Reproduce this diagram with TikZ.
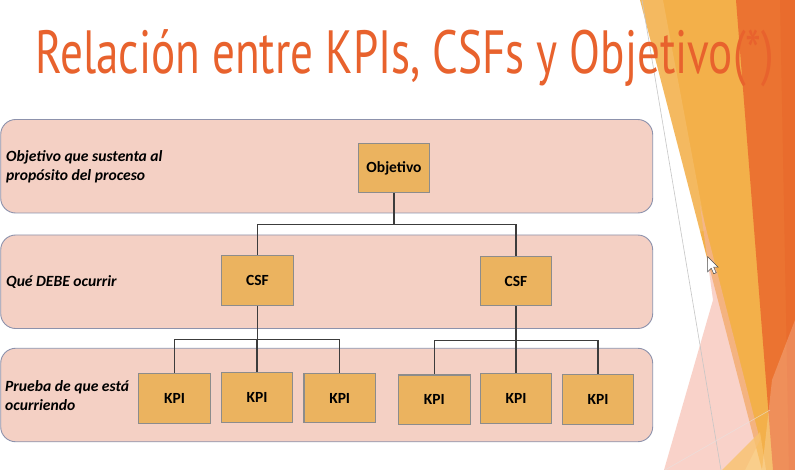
\documentclass[tikz,border=0pt]{standalone}
\usepackage{fontspec}
\setmainfont{Carlito}
\newfontfamily\titlefont{PT Sans}
\usepackage{graphicx}
\definecolor{titlecol}{HTML}{E8622D}
\definecolor{bandfill}{HTML}{F4D0C4}
\definecolor{bandline}{HTML}{8D92AC}
\definecolor{boxfill}{HTML}{EBB35F}
\definecolor{boxline}{HTML}{8C8C8C}
\definecolor{connline}{HTML}{3C3C3C}
\definecolor{decoyellow}{HTML}{F3B04A}
\definecolor{decoorange}{HTML}{EB7331}
\definecolor{decodark}{HTML}{E8682B}
\definecolor{decopink}{HTML}{F5B5A5}
\definecolor{decolight}{HTML}{F8C26E}
\begin{document}
\begin{tikzpicture}[x=1pt,y=-1pt,
  band/.style={draw=bandline, fill=bandfill, line width=0.9pt, rounded corners=15pt,
    minimum width=652pt, minimum height=93.5pt, inner sep=0pt},
  box/.style={draw=boxline, fill=boxfill, line width=1.1pt, minimum width=71.5pt,
    minimum height=49.5pt, inner sep=0pt, font=\fontsize{15.5}{18}\selectfont\bfseries},
  lbl/.style={font=\fontsize{15.6}{18.8}\selectfont\bfseries\itshape, align=left,
    inner sep=0pt, anchor=base west},
  conn/.style={draw=connline, line width=1.1pt},
]
\useasboundingbox (0,0) rectangle (795,470);
\fill[white] (0,0) rectangle (795,470);
% right-hand decoration
\fill[decoyellow] (640,0) -- (795,0) -- (795,470) -- (762,470) -- cycle;
\fill[white, opacity=0.12] (640,0) -- (663,0) -- (706,230) -- (700,232) -- cycle;
\fill[decopink, opacity=0.6] (700,205) -- (713,300) -- (664,470) -- (745,470) -- (760,440) -- cycle;
\fill[decolight, opacity=0.8] (722,470) -- (760,432) -- (766,470) -- cycle;
\fill[decoorange] (736,0) -- (795,0) -- (795,470) -- (773,470) -- cycle;
\fill[decodark, opacity=0.6] (780,0) -- (795,0) -- (795,470) -- (789,470) -- cycle;
\fill[white, opacity=0.2] (795,320) -- (795,470) -- (762,470) -- (772,380) -- cycle;
\draw[gray!45, line width=0.6pt] (642,0) -- (721,470);
\draw[white!80!gray, line width=0.5pt, opacity=0.7] (665,470) -- (770,410);
% cursor
\filldraw[fill=white, draw=black!70, line width=0.5pt]
  (707.7,256.7) -- ++(0,15) -- ++(3.5,-3.5) -- ++(2.5,5.5) -- ++(2.5,-1)
  -- ++(-2.5,-5.5) -- ++(4.5,0) -- cycle;
% title
\node[anchor=base west, inner sep=0pt, text=titlecol] (title) at (35.5,73.6)
  {\resizebox{738.5pt}{\height}{\titlefont\fontsize{61}{61}\selectfont Relación entre KPIs, CSFs y Objetivo(*)}};
% bands
\node[band] (band1) at (326.7,166.25) {};
\node[band] (band2) at (326.7,281.75) {};
\node[band] (band3) at (326.7,395) {};
% labels (base = baseline of the last line)
\node[lbl] (l1) at (6,180.5) {Objetivo que sustenta al\\propósito del proceso};
\node[lbl] (l2) at (6,286.7) {Qué DEBE ocurrir};
\node[lbl] (l3) at (5,410) {Prueba de que está\\ocurriendo};
% boxes
\node[box] (obj) at (394,168) {Objetivo};
\node[box] (csfL) at (257.5,280.7) {CSF};
\node[box] (csfR) at (516,281) {CSF};
\node[box] (k1) at (174.5,398.5) {KPI};
\node[box] (k2) at (257,397.5) {KPI};
\node[box] (k3) at (339.7,398) {KPI};
\node[box] (k4) at (434.3,399.7) {KPI};
\node[box] (k5) at (516,398.5) {KPI};
\node[box] (k6) at (598,399.5) {KPI};
% connectors
\coordinate (b0) at (394,224.3);
\coordinate (b1) at (257.5,339.5);
\coordinate (b2) at (516,340.7);
\draw[conn] (obj.south) -- (b0);
\draw[conn] (b0) -| (csfL.north);
\draw[conn] (b0) -| (csfR.north);
\draw[conn] (csfL.south) -- (b1);
\draw[conn] (b1) -| (k1.north);
\draw[conn] (b1) -| (k2.north);
\draw[conn] (b1) -| (k3.north);
\draw[conn] (csfR.south) -- (b2);
\draw[conn] (b2) -| (k4.north);
\draw[conn] (b2) -| (k5.north);
\draw[conn] (b2) -| (k6.north);
\end{tikzpicture}
\end{document}
